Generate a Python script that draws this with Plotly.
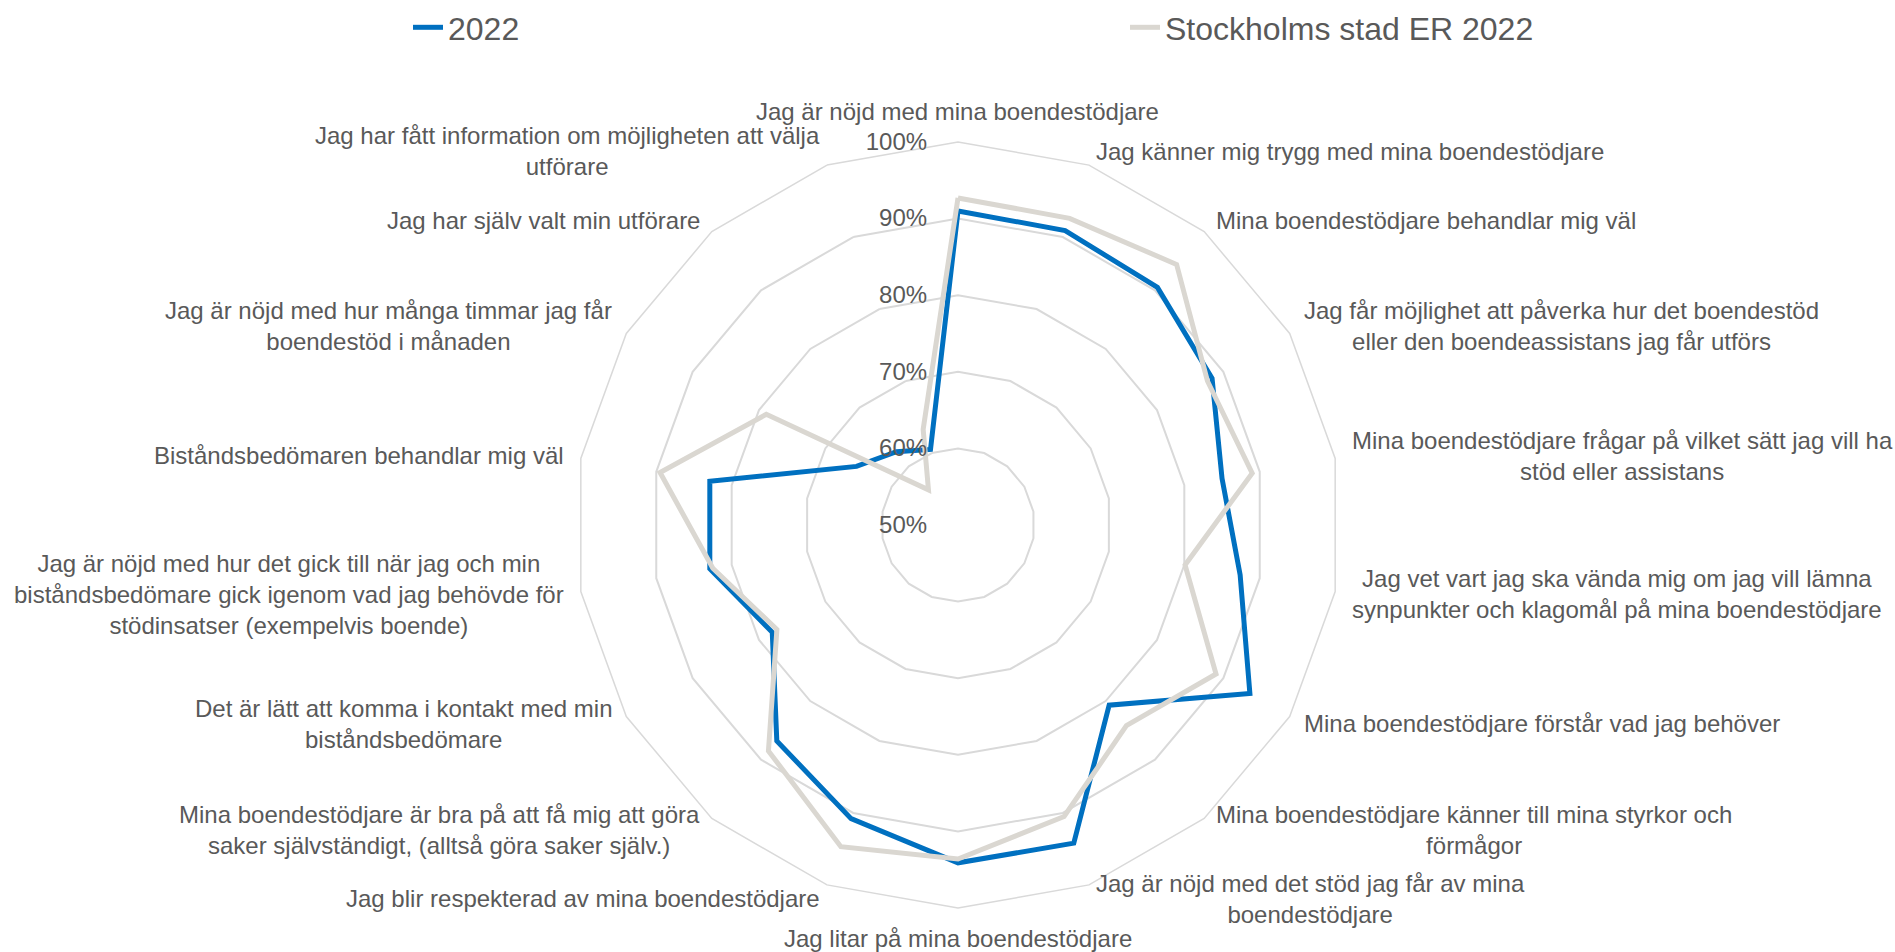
import math
import plotly.graph_objects as go

categories = [
    "Jag är nöjd med mina boendestödjare",
    "Jag känner mig trygg med mina boendestödjare",
    "Mina boendestödjare behandlar mig väl",
    "Jag får möjlighet att påverka hur det boendestöd<br>eller den boendeassistans jag får utförs",
    "Mina boendestödjare frågar på vilket sätt jag vill ha<br>stöd eller assistans",
    "Jag vet vart jag ska vända mig om jag vill lämna<br>synpunkter och klagomål på mina boendestödjare",
    "Mina boendestödjare förstår vad jag behöver",
    "Mina boendestödjare känner till mina styrkor och<br>förmågor",
    "Jag är nöjd med det stöd jag får av mina<br>boendestödjare",
    "Jag litar på mina boendestödjare",
    "Jag blir respekterad av mina boendestödjare",
    "Mina boendestödjare är bra på att få mig att göra<br>saker självständigt, (alltså göra saker själv.)",
    "Det är lätt att komma i kontakt med min<br>biståndsbedömare",
    "Jag är nöjd med hur det gick till när jag och min<br>biståndsbedömare gick igenom vad jag behövde för<br>stödinsatser (exempelvis boende)",
    "Biståndsbedömaren behandlar mig väl",
    "Jag är nöjd med hur många timmar jag får<br>boendestöd i månaden",
    "Jag har själv valt min utförare",
    "Jag har fått information om möjligheten att välja<br>utförare",
]

values_2022 = [91.0, 90.9, 90.5, 88.3, 85.0, 87.4, 94.0, 80.7, 94.2,
               94.1, 90.8, 86.8, 78.0, 82.9, 82.9, 65.3, 62.5, 60.5]
values_sthlm = [92.7, 92.6, 94.4, 87.6, 89.0, 80.1, 88.9, 84.2, 90.5,
                93.6, 94.7, 88.5, 77.3, 82.5, 89.5, 78.9, 56.0, 63.3]

radial_ticks = [50, 60, 70, 80, 90, 100]

series_names = ["2022", "Stockholms stad ER 2022"]
series_colors = ["#0070C0", "#DAD7D1"]

grid_col = "#D9D9D9"
text_col = "#595959"
font_family = "Liberation Sans, Arial, sans-serif"

# geometry (figure pixels)
W, H = 1895, 952
cx, cy_top = 958, 525
R = 383
cy = H - cy_top  # from bottom

fig = go.Figure()
for name, vals, col in zip(series_names, [values_2022, values_sthlm], series_colors):
    fig.add_trace(go.Scatterpolar(
        r=vals + vals[:1],
        theta=categories + categories[:1],
        mode="lines",
        name=name,
        line=dict(color=col, width=5),
    ))

# category labels placed around the polygon, Excel-style
annotations = []
n = len(categories)
r_lab = R * 1.038
for i, cat in enumerate(categories):
    ang = math.radians(90 - 360.0 * i / n)
    ca, sa = math.cos(ang), math.sin(ang)
    x = cx + r_lab * ca
    y = cy + r_lab * sa
    if abs(ca) < 1e-6:
        xa = "center"
        ya = "bottom" if sa > 0 else "top"
    else:
        xa = "left" if ca > 0 else "right"
        ya = "middle"
    annotations.append(dict(
        x=x / W, y=y / H, xref="paper", yref="paper",
        text=cat, showarrow=False, xanchor=xa, yanchor=ya, align="center",
        font=dict(size=24, color=text_col, family=font_family),
    ))

fig.update_layout(
    width=W, height=H,
    paper_bgcolor="white",
    plot_bgcolor="white",
    margin=dict(l=0, r=0, t=0, b=0),
    font=dict(family=font_family, size=24, color=text_col),
    annotations=annotations,
    polar=dict(
        domain=dict(x=[(cx - R) / W, (cx + R) / W], y=[(cy - R) / H, (cy + R) / H]),
        bgcolor="white",
        gridshape="linear",
        radialaxis=dict(
            range=[50, 100],
            tickvals=radial_ticks,
            ticktext=[f"{v}%" for v in radial_ticks],
            angle=90,
            tickangle=90,
            side="counterclockwise",
            showline=False,
            gridcolor=grid_col,
            gridwidth=1.5,
            ticks="outside",
            ticklen=22,
            tickcolor="rgba(0,0,0,0)",
            tickfont=dict(size=24, color=text_col),
        ),
        angularaxis=dict(
            rotation=90,
            direction="clockwise",
            showgrid=False,
            showline=True,
            linecolor=grid_col,
            linewidth=1.5,
            ticks="",
            showticklabels=False,
        ),
    ),
    legend=dict(
        orientation="h",
        x=408 / W, xanchor="left",
        y=1.0, yanchor="top",
        font=dict(size=32, color=text_col),
        entrywidth=672,
        itemwidth=30,
        bgcolor="rgba(0,0,0,0)",
    ),
)

fig.write_html("out.html", config={"displayModeBar": False},
               post_script="document.body.style.margin='0';")
